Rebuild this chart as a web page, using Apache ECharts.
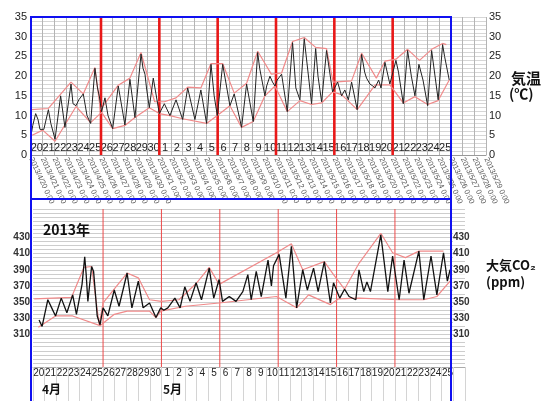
<!DOCTYPE html>
<html><head><meta charset="utf-8">
<script src="https://cdn.jsdelivr.net/npm/echarts/dist/echarts.min.js"></script>
<style>html,body{margin:0;padding:0;background:#fff}#c{width:549px;height:401px}</style>
</head><body><div id="c"></div>
<script>
// date tick labels (one per day boundary)
const dates = ['4/20','4/21','4/22','4/23','4/24','4/25','4/26','4/27','4/28','4/29','4/30',
  '5/1','5/2','5/3','5/4','5/5','5/6','5/7','5/8','5/9','5/10','5/11','5/12','5/13','5/14','5/15',
  '5/16','5/17','5/18','5/19','5/20','5/21','5/22','5/23','5/24','5/25','5/26','5/27','5/28','5/29'];
// day-of-month labels
const dayLabels = ['20','21','22','23','24','25','26','27','28','29','30',
  '1','2','3','4','5','6','7','8','9','10','11','12','13','14','15',
  '16','17','18','19','20','21','22','23','24','25'];
// 5-day separators (days since 4/20 0:00)
const redDays = [6, 11, 16, 21, 26, 31];
// axis ranges
const tempRange = [0, 35];
const co2Range = [270, 465];

// air temperature [days since 4/20 0:00, °C]
const tempLine = [[0.0,8],[0.06,6],[0.15,7.5],[0.4,10.5],[0.6,9],[0.77,6.5],[1.1,6.5],[1.49,11.5],[1.7,8],[2.06,4],
 [2.54,15],[2.91,7],[3.43,18],[3.6,13],[3.86,12.5],[4.1,14],[4.48,15.5],[4.8,10],[5.11,8],[5.48,22],[5.7,17],[5.85,15],
 [6.05,11],[6.34,14.5],[6.6,10],[7.0,6.7],[7.48,17.5],[8.05,7.6],[8.48,19.2],[8.91,9.5],[9.43,25.6],[9.6,22],[9.77,20.5],
 [9.9,17],[10.14,12],[10.48,19.5],[11.0,10.5],[11.43,13],[11.91,10],[12.43,14],[13.0,9],[13.43,17],[14.05,9],[14.56,16.5],
 [15.05,8],[15.43,23],[15.7,15],[15.97,10],[16.43,23],[17.05,12.5],[17.42,15.5],[18.05,7],[18.48,18],[19.05,8.5],[19.43,26],
 [19.6,22],[20.05,15],[20.2,17.5],[20.48,20],[20.7,18.5],[20.91,17.5],[21.1,19],[21.48,20.5],[21.97,11],[22.42,28.5],
 [22.7,17],[23.05,14],[23.42,29.5],[24.05,13],[24.4,27],[24.6,20],[24.91,13.5],[25.33,26.5],[25.85,16],[26.28,18.5],
 [26.62,15],[26.9,16.5],[27.2,14],[27.48,18.5],[27.96,11.5],[28.34,25.5],[28.6,21],[28.76,19.5],[29.05,18],[29.3,17.5],
 [29.48,17],[29.8,19],[30.0,17],[30.34,23.5],[30.76,18],[31.28,24],[31.5,21],[31.91,13],[32.28,26.5],[32.6,20],[32.91,15],
 [33.25,23],[33.6,19],[34.0,12.5],[34.34,26.5],[34.9,14],[35.28,28],[35.45,25],[35.85,19]];
const tempUpper = [[0.0,11.5],[1.49,11.8],[3.43,18.5],[4.48,15.5],[5.48,22.2],[5.95,11.5],[7.48,17.7],[8.48,19.5],[9.43,26],
 [10.6,13.5],[11.43,13.5],[12.43,14.5],[13.43,17.2],[14.56,17],[15.43,23.2],[16.43,23.2],[17.42,15.7],[18.48,18.2],[19.43,26.3],
 [20.6,20.5],[21.48,20.8],[22.42,28.8],[23.42,29.8],[24.4,27.3],[25.33,27],[25.9,18.5],[27.48,18.8],[28.34,25.8],[29.6,19.5],
 [30.34,23.8],[31.28,24.3],[32.28,26.8],[33.3,24],[34.34,26.8],[35.28,28.3],[35.6,28]];
const tempLower = [[0.1,5],[1.0,6.3],[2.06,3.5],[3.86,12.3],[5.11,8.2],[6.05,10.8],[7.0,6.7],[8.05,7.5],[8.91,9.5],[10.14,12],
 [11.0,10.5],[11.91,10],[13.0,9.2],[15.05,8],[15.97,10],[17.05,12.5],[18.05,7],[19.05,8.5],[20.05,15],[20.91,17.5],[21.97,11],
 [23.05,13.8],[24.05,12.8],[24.91,13.2],[25.85,16],[26.62,15.3],[27.96,11.5],[29.5,17.8],[30.76,17.8],[31.91,13.2],[32.91,14.8],
 [34.0,12.8],[34.9,13.8],[35.85,19]];

// atmospheric CO2 [days since 4/20 0:00, ppm]
const co2Line = [[0.52,328],[0.78,320],[1.0,335],[1.27,353],[1.6,343],[1.93,333],[2.42,355],[2.9,337],[3.4,359],[3.72,335],
 [4.2,372],[4.43,406],[4.55,385],[4.7,351],[5.02,394],[5.19,388],[5.5,333],[5.74,322],[6.0,343],[6.41,333],[6.96,365],[7.37,345],
 [8.06,386],[8.47,343],[9.02,376],[9.43,343],[9.98,349],[10.53,331],[10.94,343],[11.2,340],[11.55,343],[12.15,355],[12.6,343],
 [13.0,369],[13.45,351],[13.97,374],[14.43,353],[15.09,392],[15.48,355],[15.94,378],[16.23,351],[16.81,357],[17.39,351],
 [17.97,363],[18.4,384],[18.69,353],[19.12,388],[19.55,357],[20.13,402],[20.42,370],[20.6,395],[21.08,409],[21.66,355],
 [22.13,419],[22.58,343],[23.1,390],[23.5,365],[24.03,392],[24.42,363],[24.95,400],[25.47,349],[25.74,374],[26.27,355],
 [26.68,366],[27.07,357],[27.65,353],[27.92,390],[28.33,363],[28.6,375],[28.9,363],[29.79,433],[30.39,363],[30.8,407],
 [31.36,353],[31.78,402],[32.2,361],[33.05,413],[33.47,353],[34.09,407],[34.59,359],[35.16,411],[35.49,376],[35.72,390],[35.8,384]];
const co2Upper = [[0.1,354],[3.3,356],[4.37,393],[5.02,394],[5.67,322],[6.0,349],[8.06,386],[9.02,380],[9.98,353],[11.0,351],
 [12.5,353],[13.97,373],[15.09,393],[15.94,372],[20.85,411],[22.13,422],[23.1,390],[24.95,400],[25.74,384],[26.68,366],
 [27.92,398],[29.79,435],[30.8,411],[31.9,405],[33.05,413],[35.16,413]];
const co2Lower = [[0.46,319],[1.93,333],[3.4,333],[5.74,321],[6.96,335],[8.06,339],[9.98,339],[10.53,331],[10.94,339],
 [13.05,345],[15.94,349],[20.85,357],[22.58,343],[23.6,359],[25.47,347],[26.15,354],[27.92,355],[31.36,353],[33.47,353],
 [34.59,357],[35.72,376]];

const FONT = 'Liberation Sans, Arial, sans-serif';
const CJK = 'Noto Sans CJK JP, sans-serif';
const chart = echarts.init(document.getElementById('c'));
const pink = '#f08a8a';
function line(data, xi, yi, color, w, extra) {
  return Object.assign({type:'line', data, xAxisIndex:xi, yAxisIndex:yi, symbol:'none', silent:true,
    lineStyle:{color, width:w}, emphasis:{disabled:true}, animation:false}, extra || {});
}
// vertical separator segments built from redDays and the axis ranges
function seps(range) {
  const out = [];
  redDays.forEach(d => { out.push([d, range[0]], [d, range[1]], ['-', '-']); });
  return out;
}
chart.setOption({
  animation:false,
  grid:[{left:31, top:17, width:455, height:138},{left:33, top:209, width:432, height:158}],
  xAxis:[
    {type:'value', gridIndex:0, position:'bottom', min:0, max:39, interval:1,
     axisLine:{lineStyle:{color:'#999'}}, axisTick:{show:false},
     splitLine:{lineStyle:{color:'#b4b4b4', width:1}},
     axisLabel:{rotate:-65, margin:3, fontSize:7.5, color:'#555', fontFamily:FONT,
       formatter:v=>'2013/'+dates[Math.round(v)]+' 0:00'}},
    {type:'category', gridIndex:0, position:'bottom', data:dayLabels.concat(['','','']), boundaryGap:true,
     axisLine:{show:false}, axisTick:{show:false}, splitLine:{show:false},
     axisLabel:{inside:true, margin:2, interval:0, fontSize:11, color:'#222', fontFamily:FONT}},
    {type:'value', gridIndex:1, position:'bottom', min:0, max:37, interval:1,
     axisLine:{lineStyle:{color:'#aaa'}}, axisTick:{show:true, length:34, lineStyle:{color:'#d4d4d4'}},
     splitLine:{show:false}, axisLabel:{show:false}},
    {type:'category', gridIndex:1, position:'bottom', data:dayLabels.concat(['']), boundaryGap:true,
     axisLine:{show:false}, axisTick:{show:false}, splitLine:{show:false},
     axisLabel:{margin:1, interval:0, fontSize:10, color:'#222', fontFamily:FONT}}
  ],
  yAxis:[
    {type:'value', gridIndex:0, min:tempRange[0], max:tempRange[1], interval:1, position:'left',
     axisLine:{show:false}, axisTick:{show:false},
     splitLine:{lineStyle:{color:'#d6d6d6'}},
     axisLabel:{margin:4, fontSize:11, color:'#222', fontFamily:FONT, formatter:v=>v%5===0?String(v):''}},
    {type:'value', gridIndex:0, min:tempRange[0], max:tempRange[1], interval:1, position:'right',
     axisLine:{show:false}, axisTick:{show:false}, splitLine:{show:false},
     axisLabel:{margin:3, fontSize:11, color:'#222', fontFamily:FONT, formatter:v=>v%5===0?String(v):''}},
    {type:'value', gridIndex:1, min:co2Range[0], max:co2Range[1], interval:5, position:'left',
     axisLine:{show:false}, axisTick:{show:false},
     splitLine:{lineStyle:{color:'#cdcdcd'}},
     axisLabel:{margin:3, fontSize:10, fontWeight:'bold', color:'#333', fontFamily:FONT,
       formatter:v=>(v>=310&&v<=430&&(v-310)%20===0)?String(v):''}},
    {type:'value', gridIndex:1, min:co2Range[0], max:co2Range[1], interval:5, position:'right',
     axisLine:{show:false}, axisTick:{show:false}, splitLine:{show:false},
     axisLabel:{margin:-12, fontSize:10, fontWeight:'bold', color:'#333', fontFamily:FONT, backgroundColor:'#fff',
       formatter:v=>(v>=310&&v<=430&&(v-310)%20===0)?String(v):''}}
  ],
  series:[
    line(seps(tempRange),0,0,'#e81818',2.6,{connectNulls:false}),
    line(tempUpper,0,0,pink,1.2),
    line(tempLower,0,0,pink,1.2),
    line(tempLine,0,0,'#222',1),
    line(seps(co2Range),2,2,'#ec4a4a',1,{connectNulls:false}),
    line(co2Upper,2,2,pink,1.2),
    line(co2Lower,2,2,pink,1.2),
    line(co2Line,2,2,'#111',1.3)
  ]
});

const x0 = chart.convertToPixel({xAxisIndex:0}, 0);
const x1 = chart.convertToPixel({xAxisIndex:0}, 36);
const yT = chart.convertToPixel({yAxisIndex:0}, tempRange[1]);
const yM = 199, yB = 402;
const blue = '#1010f0';
chart.setOption({graphic:[
  {type:'polyline', shape:{points:[[x0,yB],[x0,yT],[x1,yT],[x1,yB]]}, style:{stroke:blue, lineWidth:2, fill:null}, z:100, silent:true},
  {type:'line', shape:{x1:x0, y1:yM, x2:x1, y2:yM}, style:{stroke:blue, lineWidth:2}, z:100, silent:true},
  {type:'text', left:511, top:71, style:{text:'気温', font:'bold 15px '+CJK, fill:'#111'}, z:100},
  {type:'text', left:509, top:87, style:{text:'(℃)', font:'bold 14px '+CJK, fill:'#111'}, z:100},
  {type:'text', left:486, top:259, style:{text:'大気CO₂', font:'bold 13px '+CJK, fill:'#111'}, z:100},
  {type:'text', left:486, top:276, style:{text:'(ppm)', font:'bold 13px '+CJK, fill:'#111'}, z:100},
  {type:'text', left:43, top:223, style:{text:'2013年', font:'bold 14px '+CJK, fill:'#111'}, z:100},
  {type:'text', left:42, top:383, style:{text:'4月', font:'bold 12px '+CJK, fill:'#111'}, z:100},
  {type:'text', left:163, top:383, style:{text:'5月', font:'bold 12px '+CJK, fill:'#111'}, z:100}
]});
</script></body></html>
